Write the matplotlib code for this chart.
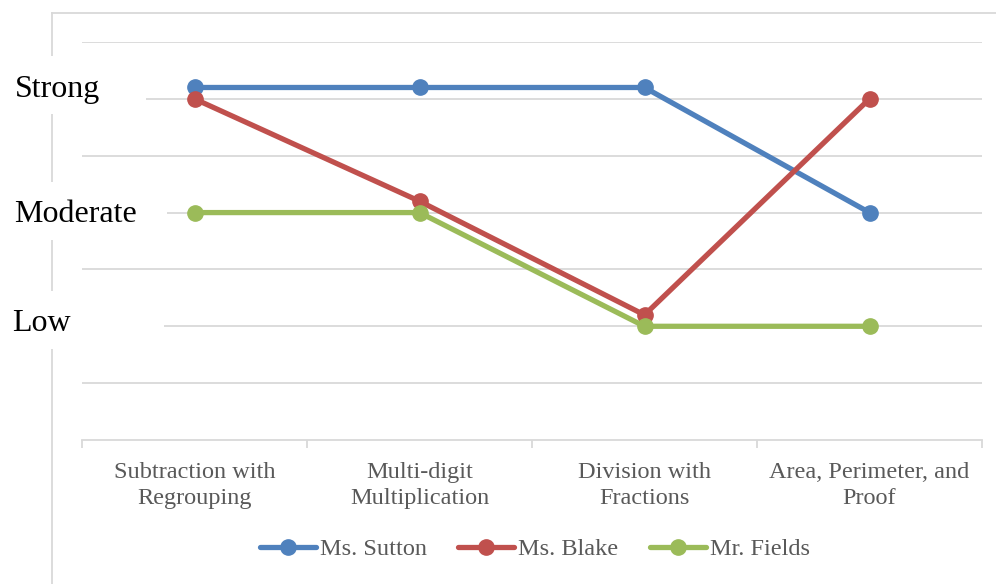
import matplotlib
matplotlib.use("Agg")
import matplotlib.pyplot as plt
from matplotlib.patches import Rectangle
from matplotlib.lines import Line2D

topics = ["Subtraction with\nRegrouping", "Multi-digit\nMultiplication",
          "Division with\nFractions", "Area, Perimeter, and\nProof"]
sutton = [6.2, 6.2, 6.2, 4.0]
blake = [6.0, 4.2, 2.2, 6.0]
fields = [4.0, 4.0, 2.0, 2.0]
teachers = ["Ms. Sutton", "Ms. Blake", "Mr. Fields"]
colors = ["#4F81BD", "#C0504D", "#9BBB59"]
levels = ["Strong", "Moderate", "Low"]

W, H = 996, 584
fig = plt.figure(figsize=(W / 100, H / 100), dpi=100)
ax = fig.add_axes([82 / W, (H - 440) / H, 900 / W, 398 / H])

x = range(len(topics))
for vals, name, c in zip([sutton, blake, fields], teachers, colors):
    ax.plot(x, vals, color=c, lw=3.8, marker="o", ms=11, label=name,
            solid_capstyle="round", zorder=3)

ax.set_xlim(-0.5, len(topics) - 0.5)
ax.set_ylim(0, 7)
ax.set_yticks(range(1, 8))
ax.yaxis.grid(True, color="#D9D9D9", lw=1.3)
ax.set_axisbelow(True)
ax.tick_params(axis="y", left=False, labelleft=False)
for s in ["top", "right", "left"]:
    ax.spines[s].set_visible(False)
ax.spines["bottom"].set_color("#D9D9D9")
ax.spines["bottom"].set_linewidth(1.3)

ax.set_xticks([i - 0.5 for i in range(len(topics) + 1)])
ax.set_xticklabels([])
ax.tick_params(axis="x", length=6, color="#D9D9D9", width=1.3)

# category names under each slot
for i, topic in zip(x, topics):
    ax.annotate(topic, xy=(i, 0), xycoords=("data", "axes fraction"),
                xytext=(0, -22), textcoords="offset pixels", ha="center",
                va="top", fontsize=17.5, color="#595959",
                family="Liberation Serif", linespacing=1.32)

# frame lines on the left and top
fig.add_artist(Line2D([52 / W, 52 / W], [0, (H - 13) / H], color="#D9D9D9",
                      lw=1.3, transform=fig.transFigure, zorder=1))
fig.add_artist(Line2D([52 / W, 1], [(H - 13) / H, (H - 13) / H], color="#D9D9D9",
                      lw=1.3, transform=fig.transFigure, zorder=1))

# level labels on white boxes: (box right, box top, box bottom, text x, baseline)
boxes = {"Strong": (146, 56, 114, 15, 97),
         "Moderate": (167, 182, 240, 14, 222),
         "Low": (164, 291, 349, 12, 331)}
for txt in levels:
    right, y0, y1, tx, base = boxes[txt]
    fig.add_artist(Rectangle((0, (H - y1) / H), right / W, (y1 - y0) / H,
                             transform=fig.transFigure, facecolor="white",
                             edgecolor="none", zorder=4))
    fig.text(tx / W, (H - base) / H, txt, fontsize=23, family="Liberation Serif",
             va="baseline", ha="left", color="black", zorder=5)

leg = fig.legend(loc="center", bbox_to_anchor=(0.537, (H - 549) / H), ncol=3,
                 frameon=False, handlelength=2.3, columnspacing=1.3,
                 handletextpad=0.16, prop={"family": "Liberation Serif", "size": 17.5})
for t in leg.get_texts():
    t.set_color("#595959")

fig.savefig("out.png", dpi=100, facecolor="white")
